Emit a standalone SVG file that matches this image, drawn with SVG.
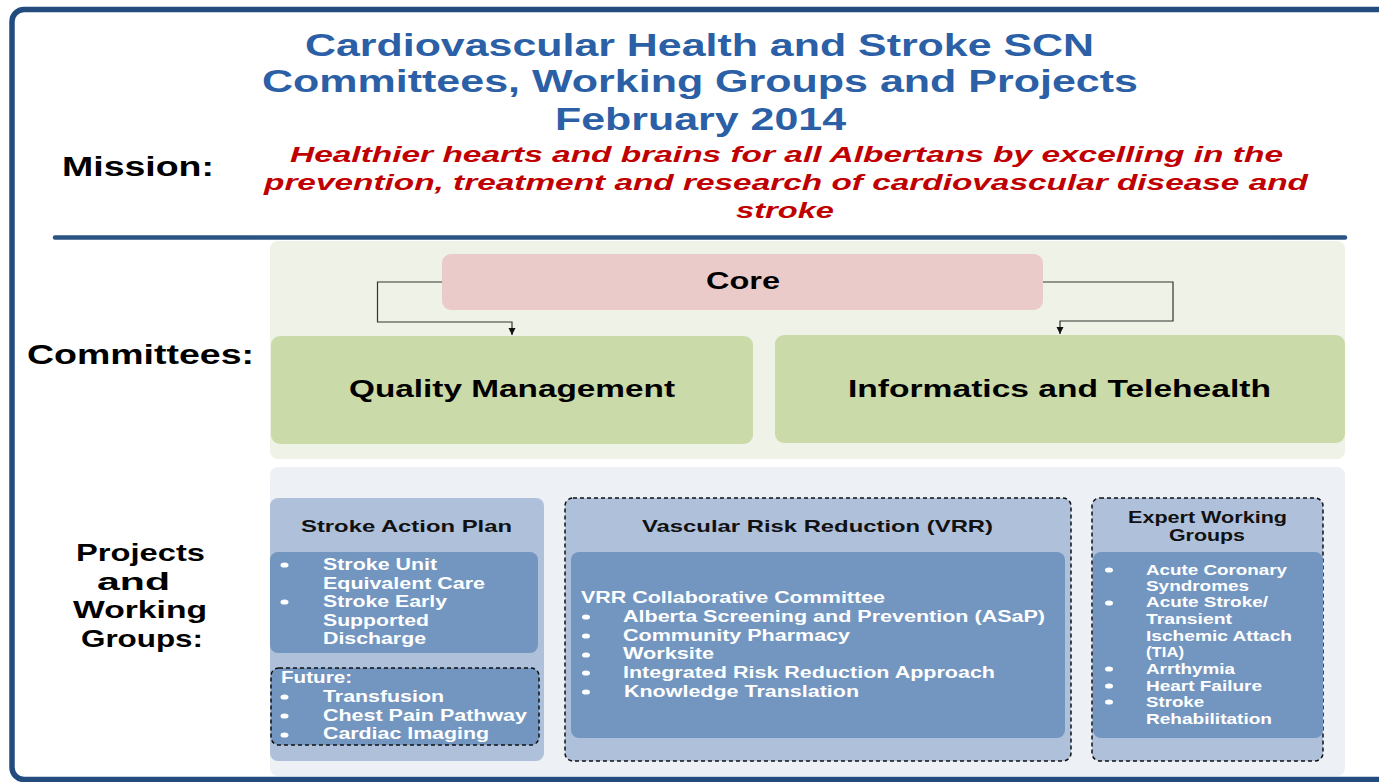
<svg xmlns="http://www.w3.org/2000/svg" width="1379" height="782" viewBox="0 0 1379 782">
<defs>
<marker id="arr" markerWidth="8" markerHeight="8" refX="7" refY="4" orient="auto" markerUnits="userSpaceOnUse">
<path d="M0,0.5 L7,4 L0,7.5 Z" fill="#111"/>
</marker>
<style>
text{font-family:"Liberation Sans",Arial,sans-serif;font-weight:bold}
.title{fill:#2b5fa6;font-size:32px}
.mis{fill:#c00000;font-size:22px;font-style:italic}
.lab{fill:#000;font-size:28px}
.lab2{fill:#000;font-size:24px}
.com{fill:#000;font-size:23px}
.hd{fill:#111;font-size:17px}
.wt{fill:#fff;font-size:16px}
.wt2{fill:#fff;font-size:15px}
.bg1{fill:#eef2e7}
.bg2{fill:#edf0f5}
.mid{fill:#afc0da}
.inn{fill:#7396c1}
.dash{stroke:#111;stroke-width:1.5;stroke-dasharray:4 3;fill:none}
.conn{stroke:#333;stroke-width:1.2;fill:none}
.dot{fill:#fff}
</style>
</defs>
<rect x="0" y="0" width="1379" height="782" fill="#fff"/>
<rect x="12" y="9.5" width="1390" height="770" rx="12" fill="none" stroke="#244b7d" stroke-width="5.5"/>

<g id="header">
<text class="title" x="305" y="56" textLength="789" lengthAdjust="spacingAndGlyphs">Cardiovascular Health and Stroke SCN</text>
<text class="title" x="262" y="92" textLength="876" lengthAdjust="spacingAndGlyphs">Committees, Working Groups and Projects</text>
<text class="title" x="555" y="130" textLength="291" lengthAdjust="spacingAndGlyphs">February 2014</text>
<text class="lab" x="62" y="176" textLength="152" lengthAdjust="spacingAndGlyphs">Mission:</text>
<text class="mis" x="290" y="162" textLength="993" lengthAdjust="spacingAndGlyphs">Healthier hearts and brains for all Albertans by excelling in the</text>
<text class="mis" x="264" y="190" textLength="1044" lengthAdjust="spacingAndGlyphs">prevention, treatment and research of cardiovascular disease and</text>
<text class="mis" x="736" y="218" textLength="98" lengthAdjust="spacingAndGlyphs">stroke</text>
<line x1="55" y1="237.5" x2="1345" y2="237.5" stroke="#2b5383" stroke-width="4.5" stroke-linecap="round"/>
</g>

<g id="labels">
<text class="lab" x="27" y="364" textLength="227" lengthAdjust="spacingAndGlyphs">Committees:</text>
<text class="lab2" x="76" y="561" textLength="129" lengthAdjust="spacingAndGlyphs">Projects</text>
<text class="lab2" x="97" y="590" textLength="73" lengthAdjust="spacingAndGlyphs">and</text>
<text class="lab2" x="73" y="618" textLength="134" lengthAdjust="spacingAndGlyphs">Working</text>
<text class="lab2" x="81" y="647" textLength="122" lengthAdjust="spacingAndGlyphs">Groups:</text>
</g>

<rect class="bg1" x="270" y="241" width="1075" height="218" rx="8"/>
<rect class="bg2" x="270" y="467" width="1075" height="309" rx="8"/>

<g id="core">
<rect x="442" y="254" width="601" height="56" rx="9" fill="#ebcbca"/>
<text class="com" x="706" y="289" font-size="22" textLength="74" lengthAdjust="spacingAndGlyphs">Core</text>
</g>
<g id="quality">
<rect x="271" y="336" width="482" height="108" rx="9" fill="#cadaa8"/>
<text class="com" x="349" y="397" textLength="326" lengthAdjust="spacingAndGlyphs">Quality Management</text>
</g>
<g id="informatics">
<rect x="775" y="335" width="570" height="108" rx="9" fill="#cadaa8"/>
<text class="com" x="848" y="397" textLength="423" lengthAdjust="spacingAndGlyphs">Informatics and Telehealth</text>
</g>

<g id="connectors">
<polyline class="conn" points="442,282 377.5,282 377.5,322 512,322 512,335" marker-end="url(#arr)"/>
<polyline class="conn" points="1043,282 1173,282 1173,321 1060,321 1060,334" marker-end="url(#arr)"/>
</g>

<g id="stroke-action-plan">
<rect class="mid" x="270" y="498" width="274" height="263" rx="8"/>
<text class="hd" x="301" y="532" textLength="211" lengthAdjust="spacingAndGlyphs">Stroke Action Plan</text>
<rect class="inn" x="270" y="552" width="268" height="101" rx="8"/>
<ellipse class="dot" cx="284.5" cy="565" rx="4" ry="2.6"/>
<ellipse class="dot" cx="284.5" cy="602" rx="4" ry="2.6"/>
<text class="wt" x="323" y="570" textLength="114" lengthAdjust="spacingAndGlyphs">Stroke Unit</text>
<text class="wt" x="323" y="589" textLength="162" lengthAdjust="spacingAndGlyphs">Equivalent Care</text>
<text class="wt" x="323" y="607" textLength="124" lengthAdjust="spacingAndGlyphs">Stroke Early</text>
<text class="wt" x="323" y="626" textLength="106" lengthAdjust="spacingAndGlyphs">Supported</text>
<text class="wt" x="323" y="644" textLength="103" lengthAdjust="spacingAndGlyphs">Discharge</text>
</g>
<g id="future">
<rect class="inn" x="271" y="668" width="268" height="77" rx="8"/>
<rect class="dash" x="271" y="668" width="268" height="77" rx="8"/>
<text class="wt" x="281" y="683" textLength="71" lengthAdjust="spacingAndGlyphs">Future:</text>
<ellipse class="dot" cx="284.5" cy="697" rx="4" ry="2.6"/>
<ellipse class="dot" cx="284.5" cy="716" rx="4" ry="2.6"/>
<ellipse class="dot" cx="284.5" cy="735" rx="4" ry="2.6"/>
<text class="wt" x="323" y="702" textLength="121" lengthAdjust="spacingAndGlyphs">Transfusion</text>
<text class="wt" x="323" y="721" textLength="204" lengthAdjust="spacingAndGlyphs">Chest Pain Pathway</text>
<text class="wt" x="323" y="739" textLength="166" lengthAdjust="spacingAndGlyphs">Cardiac Imaging</text>
</g>

<g id="vrr">
<rect class="mid" x="565" y="498" width="506" height="263" rx="8"/>
<rect class="dash" x="565" y="498" width="506" height="263" rx="8"/>
<text class="hd" x="642" y="532" textLength="351" lengthAdjust="spacingAndGlyphs">Vascular Risk Reduction (VRR)</text>
<rect class="inn" x="571" y="552" width="494" height="186" rx="8"/>
<text class="wt" x="581" y="603" textLength="304" lengthAdjust="spacingAndGlyphs">VRR Collaborative Committee</text>
<ellipse class="dot" cx="586" cy="617" rx="4" ry="2.6"/>
<ellipse class="dot" cx="586" cy="636" rx="4" ry="2.6"/>
<ellipse class="dot" cx="586" cy="655" rx="4" ry="2.6"/>
<ellipse class="dot" cx="586" cy="673" rx="4" ry="2.6"/>
<ellipse class="dot" cx="586" cy="692" rx="4" ry="2.6"/>
<text class="wt" x="623" y="622" textLength="422" lengthAdjust="spacingAndGlyphs">Alberta Screening and Prevention (ASaP)</text>
<text class="wt" x="623" y="641" textLength="227" lengthAdjust="spacingAndGlyphs">Community Pharmacy</text>
<text class="wt" x="623" y="659" textLength="91" lengthAdjust="spacingAndGlyphs">Worksite</text>
<text class="wt" x="623" y="678" textLength="372" lengthAdjust="spacingAndGlyphs">Integrated Risk Reduction Approach</text>
<text class="wt" x="624" y="697" textLength="235" lengthAdjust="spacingAndGlyphs">Knowledge Translation</text>
</g>

<g id="expert">
<rect class="mid" x="1092" y="498" width="231" height="263" rx="8"/>
<rect class="dash" x="1092" y="498" width="231" height="263" rx="8"/>
<text class="hd" x="1128" y="523" textLength="159" lengthAdjust="spacingAndGlyphs">Expert Working</text>
<text class="hd" x="1169" y="541" textLength="76" lengthAdjust="spacingAndGlyphs">Groups</text>
<rect class="inn" x="1093" y="552" width="230" height="186" rx="8"/>
<ellipse class="dot" cx="1109" cy="570" rx="4" ry="2.6"/>
<ellipse class="dot" cx="1109" cy="603" rx="4" ry="2.6"/>
<ellipse class="dot" cx="1109" cy="669" rx="4" ry="2.6"/>
<ellipse class="dot" cx="1109" cy="686" rx="4" ry="2.6"/>
<ellipse class="dot" cx="1109" cy="702" rx="4" ry="2.6"/>
<text class="wt2" x="1146" y="575" textLength="141" lengthAdjust="spacingAndGlyphs">Acute Coronary</text>
<text class="wt2" x="1146" y="591" textLength="103" lengthAdjust="spacingAndGlyphs">Syndromes</text>
<text class="wt2" x="1146" y="607" textLength="122" lengthAdjust="spacingAndGlyphs">Acute Stroke/</text>
<text class="wt2" x="1146" y="624" textLength="86" lengthAdjust="spacingAndGlyphs">Transient</text>
<text class="wt2" x="1146" y="641" textLength="146" lengthAdjust="spacingAndGlyphs">Ischemic Attach</text>
<text class="wt2" x="1146" y="657" textLength="38" lengthAdjust="spacingAndGlyphs">(TIA)</text>
<text class="wt2" x="1146" y="674" textLength="89" lengthAdjust="spacingAndGlyphs">Arrthymia</text>
<text class="wt2" x="1146" y="691" textLength="116" lengthAdjust="spacingAndGlyphs">Heart Failure</text>
<text class="wt2" x="1146" y="707" textLength="58" lengthAdjust="spacingAndGlyphs">Stroke</text>
<text class="wt2" x="1146" y="724" textLength="126" lengthAdjust="spacingAndGlyphs">Rehabilitation</text>
</g>
</svg>
